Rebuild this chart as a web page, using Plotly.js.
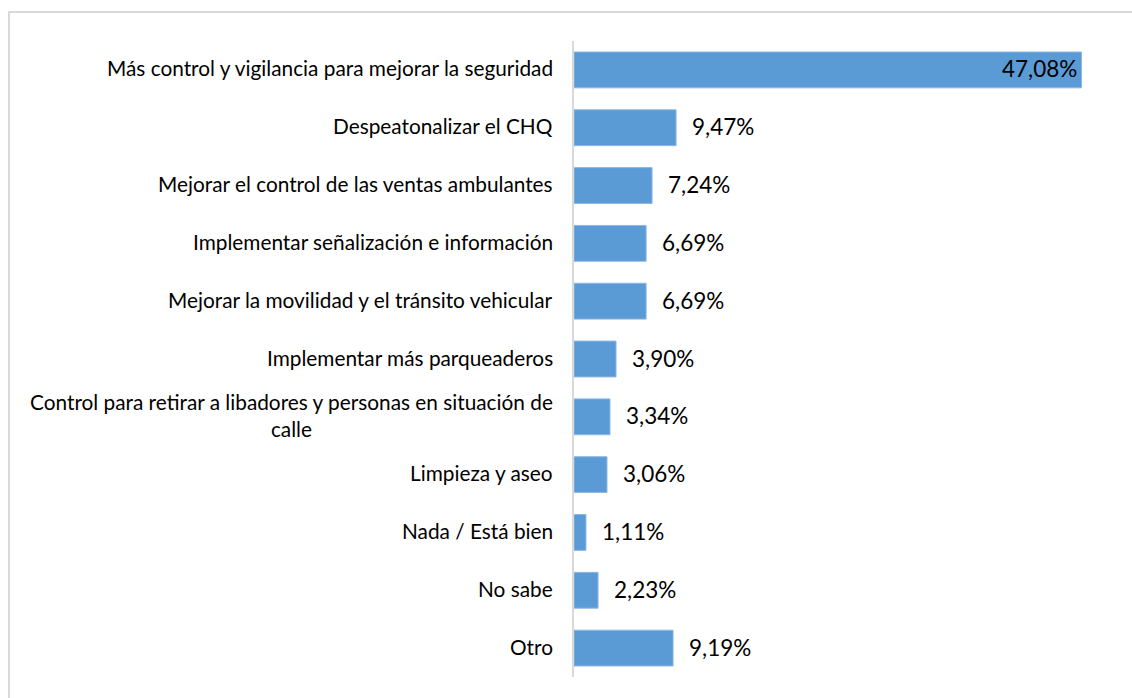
<!DOCTYPE html>
<html><head><meta charset="utf-8">
<script src="https://cdn.plot.ly/plotly-3.0.1.min.js"></script>
<style>
html,body{margin:0;padding:0;background:#fff;}
#frame{position:absolute;left:8px;top:11px;width:1140px;height:700px;border-left:2px solid #d9d9d9;border-top:2px solid #d9d9d9;box-sizing:border-box;}
#chart{position:absolute;left:0;top:0;width:1132px;height:698px;}
</style></head>
<body>
<div id="frame"></div>
<div id="chart"></div>
<script>
const categories = [
  "Más control y vigilancia para mejorar la seguridad",
  "Despeatonalizar el CHQ",
  "Mejorar el control de las ventas ambulantes",
  "Implementar señalización e información",
  "Mejorar la movilidad y el tránsito vehicular",
  "Implementar más parqueaderos",
  "Control para retirar a libadores y personas en situación de<br>calle",
  "Limpieza y aseo",
  "Nada / Está bien",
  "No sabe",
  "Otro"
];
const values = [47.08, 9.47, 7.24, 6.69, 6.69, 3.90, 3.34, 3.06, 1.11, 2.23, 9.19];
const valueLabels = ["47,08%","9,47%","7,24%","6,69%","6,69%","3,90%","3,34%","3,06%","1,11%","2,23%","9,19%"];

const FONT = "Lato, 'Noto Sans', sans-serif";
const annotations = [];
categories.forEach((c, i) => {
  annotations.push({
    xref: 'paper', yref: 'y', x: 0, y: c, text: c,
    xanchor: 'right', yanchor: 'middle', xshift: -19, yshift: 2, align: 'center',
    showarrow: false, font: {family: FONT, size: 20.8, color: '#000'}
  });
  const inside = i === 0;
  annotations.push({
    xref: 'x', yref: 'y', x: values[i], y: c, text: valueLabels[i],
    xanchor: inside ? 'right' : 'left', yanchor: 'middle', xshift: inside ? -3 : 14, yshift: 1,
    showarrow: false, font: {family: FONT, size: 22.5, color: '#000'}
  });
});

Plotly.newPlot('chart', [{
  type: 'bar', orientation: 'h', x: values, y: categories,
  marker: {color: '#5B9BD5', line: {color: '#8FB8E3', width: 1}},
  hoverinfo: 'none'
}], {
  width: 1132, height: 698,
  margin: {l: 574, r: 19, t: 41, b: 21},
  paper_bgcolor: 'rgba(0,0,0,0)', plot_bgcolor: 'rgba(0,0,0,0)',
  bargap: 0.38,
  showlegend: false,
  xaxis: {range: [0, 50], visible: false, fixedrange: true},
  yaxis: {type: 'category', autorange: 'reversed', showticklabels: false, ticks: '',
          showline: true, linecolor: '#d9d9d9', linewidth: 2, showgrid: false, zeroline: false},
  annotations: annotations
}, {displayModeBar: false, staticPlot: true});
</script>
</body></html>
